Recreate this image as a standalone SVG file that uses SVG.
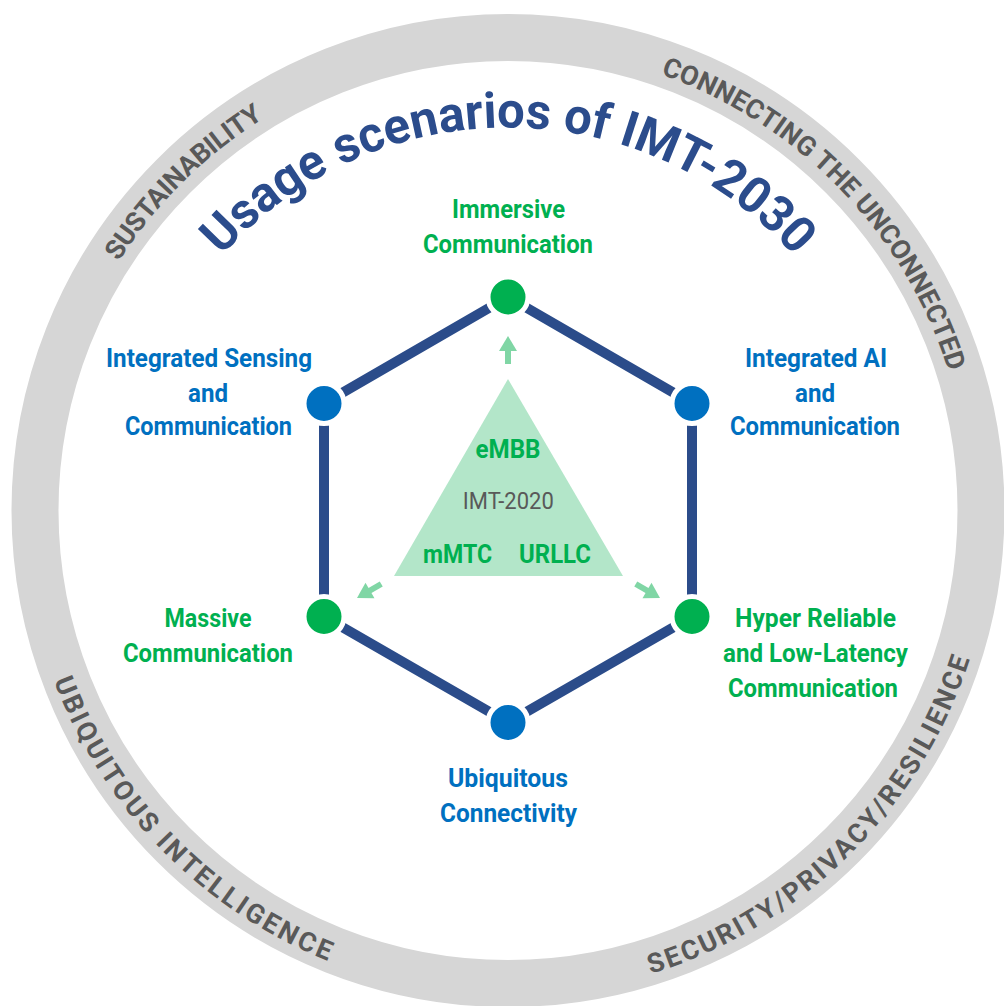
<svg xmlns="http://www.w3.org/2000/svg" width="1004" height="1006" viewBox="0 0 1004 1006">
<style>
.lbl{font-family:Roboto,"Noto Sans","Liberation Sans",sans-serif;font-weight:bold;font-size:25px;text-anchor:middle}
.g{fill:#00B050}
.b{fill:#0070C0}
.ring{font-family:Roboto,"Noto Sans","Liberation Sans",sans-serif;font-weight:bold;font-size:27px;fill:#595959;text-anchor:middle}
.title{font-family:Roboto,"Noto Sans","Liberation Sans",sans-serif;font-weight:bold;font-size:50px;fill:#2B4C8C;text-anchor:middle}
.edge{stroke:#2B4C8A;stroke-width:10;fill:none}
.dot{stroke:#ffffff;stroke-width:5}
.arrow{fill:#80D6A5}
</style>
<defs>
<path id="cwTitle" d="M508,893.5 A383,383 0 1 1 508,127.5 A383,383 0 1 1 508,893.5"/>
<path id="cwRing" d="M508,972.5 A462,462 0 1 1 508,48.5 A462,462 0 1 1 508,972.5"/>
<path id="ccwRing" d="M508,25.5 A485,485 0 1 0 508,995.5 A485,485 0 1 0 508,25.5"/>
<g id="arr"><polygon points="0,0 -9,15 9,15"/><rect x="-3" y="14" width="6" height="14"/></g>
</defs>
<rect width="1004" height="1006" fill="#ffffff"/>
<g id="ring">
<circle cx="508" cy="510.5" r="473" fill="none" stroke="#D6D6D6" stroke-width="47"/>
<text class="ring"><textPath href="#cwRing" startOffset="1091" textLength="205" lengthAdjust="spacing">SUSTAINABILITY</textPath></text>
<text class="ring"><textPath href="#cwRing" startOffset="1821.2" textLength="429" lengthAdjust="spacing">CONNECTING THE UNCONNECTED</textPath></text>
<text class="ring"><textPath href="#ccwRing" startOffset="1137.2" textLength="403" lengthAdjust="spacing">UBIQUITOUS INTELLIGENCE</textPath></text>
<text class="ring"><textPath href="#ccwRing" startOffset="1901.2" textLength="466" lengthAdjust="spacing">SECURITY/PRIVACY/RESILIENCE</textPath></text>
</g>
<g id="title">
<text class="title"><textPath href="#cwTitle" startOffset="1203.2" textLength="647" lengthAdjust="spacingAndGlyphs">Usage scenarios of IMT-2030</textPath></text>
</g>
<g id="connectors">
<polygon class="edge" points="508,297 692,403.5 692,616.5 508,722.5 324,616.5 324,403.5"/>
<g class="arrow">
<use href="#arr" transform="translate(508,336)"/>
<use href="#arr" transform="translate(357,598) rotate(-120)"/>
<use href="#arr" transform="translate(660,598) rotate(120)"/>
</g>
</g>
<g id="imt2020">
<polygon points="508,379 394,576 623,576" fill="#B3E6C9"/>
<text class="lbl g" x="508" y="458" textLength="65" lengthAdjust="spacingAndGlyphs">eMBB</text>
<text x="508.3" y="509" font-family="Roboto,'Noto Sans','Liberation Sans',sans-serif" font-size="23" fill="#595959" text-anchor="middle" textLength="91" lengthAdjust="spacingAndGlyphs">IMT-2020</text>
<text class="lbl g" x="457.5" y="563" textLength="69" lengthAdjust="spacingAndGlyphs">mMTC</text>
<text class="lbl g" x="555" y="563" textLength="72" lengthAdjust="spacingAndGlyphs">URLLC</text>
</g>
<g id="node-immersive">
<circle class="dot" cx="508" cy="297" r="20" fill="#00B050"/>
<text class="lbl g" x="508.5" y="218" textLength="113" lengthAdjust="spacingAndGlyphs">Immersive</text>
<text class="lbl g" x="508" y="253" textLength="170" lengthAdjust="spacingAndGlyphs">Communication</text>
</g>
<g id="node-ai">
<circle class="dot" cx="692" cy="403.5" r="20" fill="#0070C0"/>
<text class="lbl b" x="816" y="367" textLength="142" lengthAdjust="spacingAndGlyphs">Integrated AI</text>
<text class="lbl b" x="815" y="402" textLength="40" lengthAdjust="spacingAndGlyphs">and</text>
<text class="lbl b" x="815" y="435" textLength="170" lengthAdjust="spacingAndGlyphs">Communication</text>
</g>
<g id="node-hrllc">
<circle class="dot" cx="692" cy="616.5" r="20" fill="#00B050"/>
<text class="lbl g" x="815.5" y="627" textLength="161" lengthAdjust="spacingAndGlyphs">Hyper Reliable</text>
<text class="lbl g" x="815.5" y="662" textLength="185" lengthAdjust="spacingAndGlyphs">and Low-Latency</text>
<text class="lbl g" x="813" y="697" textLength="170" lengthAdjust="spacingAndGlyphs">Communication</text>
</g>
<g id="node-ubiquitous">
<circle class="dot" cx="508" cy="722.5" r="20" fill="#0070C0"/>
<text class="lbl b" x="508" y="787" textLength="120" lengthAdjust="spacingAndGlyphs">Ubiquitous</text>
<text class="lbl b" x="508.5" y="822" textLength="137" lengthAdjust="spacingAndGlyphs">Connectivity</text>
</g>
<g id="node-massive">
<circle class="dot" cx="324" cy="616.5" r="20" fill="#00B050"/>
<text class="lbl g" x="208" y="627" textLength="87" lengthAdjust="spacingAndGlyphs">Massive</text>
<text class="lbl g" x="208" y="662" textLength="170" lengthAdjust="spacingAndGlyphs">Communication</text>
</g>
<g id="node-sensing">
<circle class="dot" cx="324" cy="403.5" r="20" fill="#0070C0"/>
<text class="lbl b" x="209" y="367" textLength="206" lengthAdjust="spacingAndGlyphs">Integrated Sensing</text>
<text class="lbl b" x="208" y="402" textLength="40" lengthAdjust="spacingAndGlyphs">and</text>
<text class="lbl b" x="208.5" y="435" textLength="167" lengthAdjust="spacingAndGlyphs">Communication</text>
</g>
</svg>
